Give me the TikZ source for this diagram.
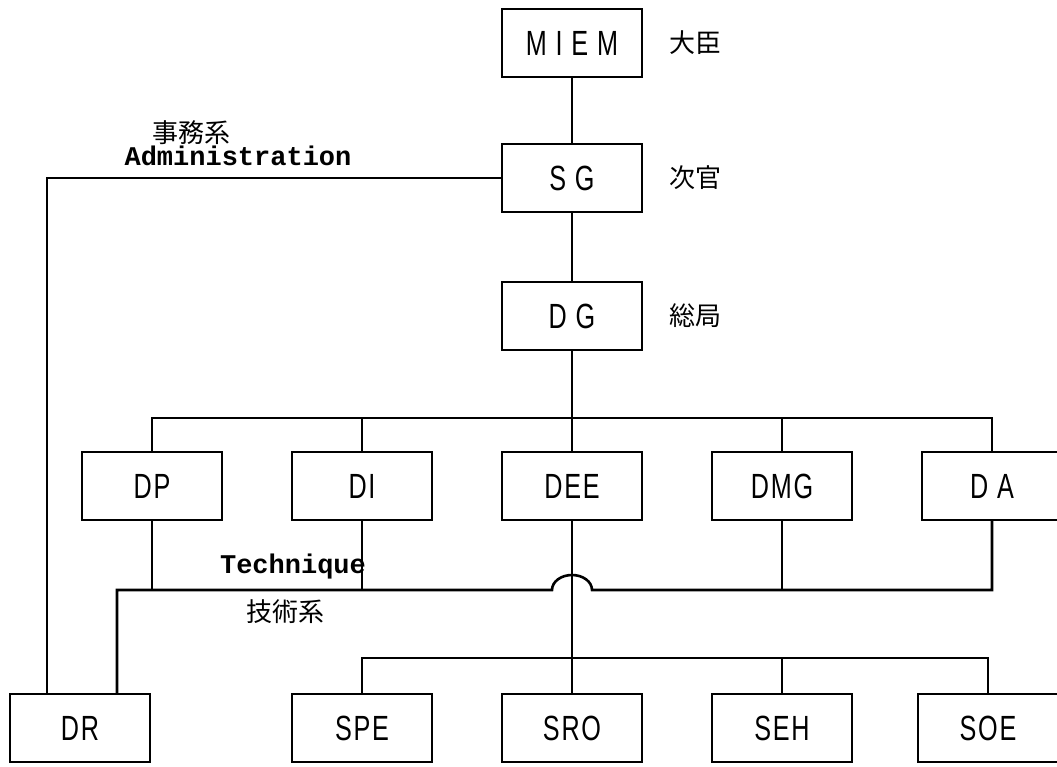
\documentclass[tikz,border=0pt]{standalone}
\usepackage{fontspec}
\usetikzlibrary{positioning}
\setmainfont{Liberation Sans}
\newfontfamily\boxfont[FakeStretch=0.72,LetterSpace=5]{Liberation Sans}
\newfontfamily\tagfont{Liberation Mono}
\newfontfamily\jpfont{Noto Sans CJK JP}

\begin{document}
\begin{tikzpicture}[x=1pt,y=-1pt,
    unit/.style={draw,line width=2.6pt,minimum width=140pt,minimum height=68pt,
      inner sep=0pt,outer sep=0pt,font=\boxfont\fontsize{35}{35}\selectfont},
    link/.style={line width=2.6pt},
    note/.style={inner sep=0pt,font=\jpfont\fontsize{26}{26}\selectfont},
    tag/.style={inner sep=0pt,font=\tagfont\bfseries\fontsize{27}{27}\selectfont}
  ]
    \useasboundingbox (0,0) rectangle (1057,767);
    % top chain
    \node[unit] (miem) at (572,43) {M I E M};
    \node[unit,below=67pt of miem] (sg) {S G};
    \node[unit,below=70pt of sg] (dg) {D G};
    \node[note,right=27pt of miem] (minister) {大臣};
    \node[note,right=27pt of sg] (vice) {次官};
    \node[note,right=27pt of dg] (general) {総局};
    % directions
    \node[unit] (dp) at (152,486) {DP};
    \node[unit,right=70pt of dp] (di) {DI};
    \node[unit,right=70pt of di] (dee) {DEE};
    \node[unit,right=70pt of dee] (dmg) {DMG};
    \node[unit,right=70pt of dmg] (da) {D A};
    % services
    \node[unit] (dr) at (80,728) {DR};
    \node[unit] (spe) at (362,728) {SPE};
    \node[unit,right=70pt of spe] (sro) {SRO};
    \node[unit,right=70pt of sro] (seh) {SEH};
    \node[unit,right=66pt of seh] (soe) {SOE};
    % buses
    \coordinate (bus) at (0,418);
    \coordinate (tech) at (0,590);
    \coordinate (low) at (0,658);
    \draw[link] (miem) -- (sg);
    \draw[link] (sg) -- (dg);
    \draw[link] (dg) -- (dee);
    \draw[link] (dp.north) -- (dp |- bus) -- (da |- bus) -- (da.north);
    \draw[link] (di.north) -- (di |- bus);
    \draw[link] (dmg.north) -- (dmg |- bus);
    \draw[link] ([xshift=37pt]dr.north) |- ([xshift=-20pt]dee.south |- tech)
      arc[start angle=180,end angle=0,x radius=20pt,y radius=15pt]
      -- (da |- tech) -- (da.south);
    \draw[link] (dp.south) -- (dp |- tech);
    \draw[link] (di.south) -- (di |- tech);
    \draw[link] (dmg.south) -- (dmg |- tech);
    \draw[link] (dee) -- (sro);
    \draw[link] (spe.north) -- (spe |- low) -- (soe |- low) -- (soe.north);
    \draw[link] (seh.north) -- (seh |- low);
    \draw[link] (sg.west) -| ([xshift=-33pt]dr.north);
    % labels
    \node[note] (admjp) at (191,133) {事務系};
    \node[tag] (adm) at (238,156) {Administration};
    \node[tag] (techfr) at (293,567) {Technique};
    \node[note] (techjp) at (285,612) {技術系};
  \end{tikzpicture}
\end{document}
